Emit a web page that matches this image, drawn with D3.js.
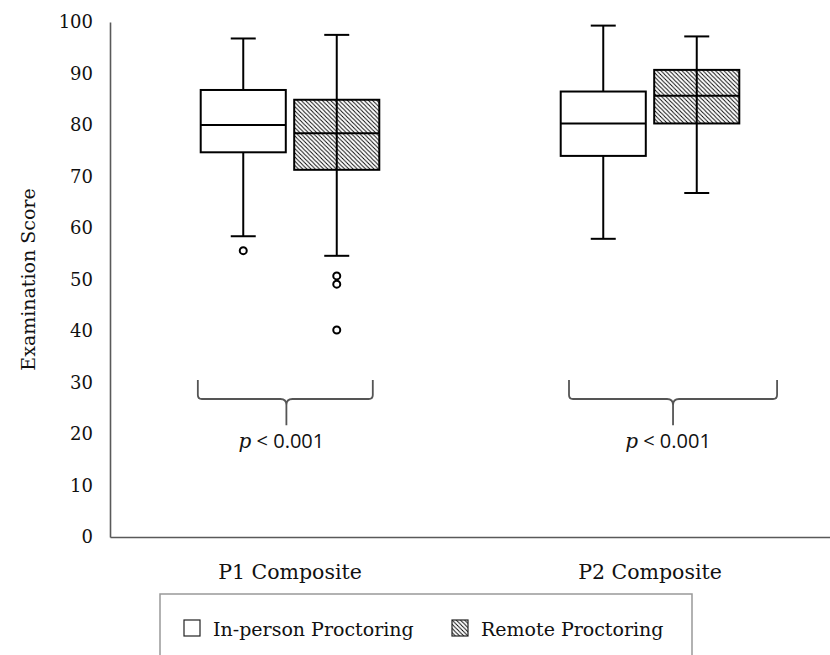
<!DOCTYPE html>
<html>
<head>
<meta charset="utf-8">
<script src="https://cdn.jsdelivr.net/npm/d3@7"></script>
<style>
  body { margin: 0; background: #fff; }
  svg { display: block; }
</style>
</head>
<body>
<svg id="vis" width="830" height="655"></svg>
<script>
// composites on the x axis, proctoring type as the two boxes
const categories = ['P1 Composite', 'P2 Composite'];
const series = ['In-person Proctoring', 'Remote Proctoring'];

// [min whisker, q1, median, q3, max whisker]
const inPersonStats = [[58.4, 74.7, 80.0, 86.8, 96.8], [57.9, 74.0, 80.3, 86.5, 99.3]];
const remoteStats = [[54.6, 71.3, 78.4, 84.9, 97.5], [66.8, 80.3, 85.7, 90.7, 97.2]];

const inPersonOutliers = [[55.6], []];
const remoteOutliers = [[50.7, 49.1, 40.2], []];

const yTicks = [0, 10, 20, 30, 40, 50, 60, 70, 80, 90, 100];

// significance braces: [left, tip, right] as fraction of the category band, then value levels
const braceSpan = [[0.244, 0.49, 0.73], [0.275, 0.564, 0.853]];
const braceLevels = [30.5, 26.8, 21.7];
const pLabels = ['0.001', '0.001'];
const pLabelLevel = 17.3;

const vis = d3.select('#vis');
const margin = {top: 22, right: 0, bottom: 118, left: 110};
const width = 830 - margin.left - margin.right;
const height = 655 - margin.top - margin.bottom;

const g = vis.append('g').attr('transform', `translate(${margin.left},${margin.top})`);

const x = d3.scaleBand().domain(categories).range([0, width]);
const bw = x.bandwidth();
const x1 = d3.scaleBand().domain(series)
  .range([bw / 2 - 93.5, bw / 2 + 93.5])
  .paddingInner(0.09).paddingOuter(0.045);
const y = d3.scaleLinear().domain([0, 100]).range([height, 0]);

// hatch for the remote boxes
const defs = vis.append('defs');
defs.append('pattern')
  .attr('id', 'hatch')
  .attr('patternUnits', 'userSpaceOnUse')
  .attr('width', 4.2).attr('height', 4.2)
  .append('path')
    .attr('d', 'M-1,-1 L5.2,5.2 M-1,3.2 L1,5.2 M3.2,-1 L5.2,1')
    .attr('stroke', '#000').attr('stroke-width', 0.9);

// axes
const yAxis = g.append('g').call(d3.axisLeft(y).tickValues(yTicks).tickSize(0).tickPadding(17));
yAxis.select('.domain').attr('stroke', '#595959').attr('stroke-width', 1.6);
yAxis.selectAll('text')
  .attr('font-family', 'DejaVu Serif').attr('font-size', 18).attr('fill', '#111');

const xAxis = g.append('g').attr('transform', `translate(0,${height})`)
  .call(d3.axisBottom(x).tickSize(0).tickSizeOuter(0).tickPadding(27));
xAxis.select('.domain').attr('stroke', '#595959').attr('stroke-width', 1.6);
xAxis.selectAll('text')
  .attr('font-family', 'DejaVu Serif').attr('font-size', 20.5).attr('fill', '#111');

vis.append('text')
  .attr('transform', `translate(28,${margin.top + height / 2}) rotate(-90)`)
  .attr('text-anchor', 'middle')
  .attr('dy', '0.35em')
  .attr('font-family', 'DejaVu Serif').attr('font-size', 19).attr('fill', '#111')
  .text('Examination Score');

// boxes
const boxes = [];
categories.forEach((c, i) => {
  boxes.push({cat: c, s: series[0], stats: inPersonStats[i], outliers: inPersonOutliers[i]});
  boxes.push({cat: c, s: series[1], stats: remoteStats[i], outliers: remoteOutliers[i]});
});

const box = g.selectAll('g.box').data(boxes)
  .enter()
  .append('g')
    .classed('box', true)
    .attr('transform', d => `translate(${x(d.cat) + x1(d.s)},0)`);

const bxw = x1.bandwidth();
const capW = 25;

box.append('line')
  .attr('x1', bxw / 2).attr('x2', bxw / 2)
  .attr('y1', d => y(d.stats[0])).attr('y2', d => y(d.stats[4]))
  .attr('stroke', '#000').attr('stroke-width', 2);

box.selectAll('line.cap').data(d => [d.stats[0], d.stats[4]])
  .enter()
  .append('line')
    .classed('cap', true)
    .attr('x1', bxw / 2 - capW / 2).attr('x2', bxw / 2 + capW / 2)
    .attr('y1', d => y(d)).attr('y2', d => y(d))
    .attr('stroke', '#000').attr('stroke-width', 2);

box.append('rect')
  .attr('x', 0).attr('width', bxw)
  .attr('y', d => y(d.stats[3]))
  .attr('height', d => y(d.stats[1]) - y(d.stats[3]))
  .attr('fill', d => d.s === series[1] ? 'url(#hatch)' : '#fff')
  .attr('stroke', '#000').attr('stroke-width', 2);

box.append('line')
  .attr('x1', 0).attr('x2', bxw)
  .attr('y1', d => y(d.stats[2])).attr('y2', d => y(d.stats[2]))
  .attr('stroke', '#000').attr('stroke-width', 2);

box.selectAll('circle').data(d => d.outliers)
  .enter()
  .append('circle')
    .attr('cx', bxw / 2).attr('cy', d => y(d)).attr('r', 3.5)
    .attr('fill', '#fff').attr('stroke', '#000').attr('stroke-width', 2);

// braces and p values
const brace = g.selectAll('g.brace').data(categories)
  .enter()
  .append('g')
    .classed('brace', true)
    .attr('transform', d => `translate(${x(d)},0)`);

brace.append('path')
  .attr('d', (d, i) => {
    const [a, m, b] = braceSpan[i].map(f => f * bw);
    const [t, h, p] = braceLevels.map(v => y(v));
    return `M${a},${t} V${h - 4} Q${a},${h} ${a + 4},${h} H${m - 6} Q${m},${h} ${m},${h + 6} V${p}` +
           ` M${b},${t} V${h - 4} Q${b},${h} ${b - 4},${h} H${m + 6} Q${m},${h} ${m},${h + 6}`;
  })
  .attr('fill', 'none').attr('stroke', '#555').attr('stroke-width', 1.8);

const pText = brace.append('text')
  .attr('x', (d, i) => braceSpan[i][1] * bw - 5)
  .attr('y', y(pLabelLevel))
  .attr('text-anchor', 'middle')
  .attr('font-family', 'Open Sans').attr('font-size', 20).attr('fill', '#111');
pText.append('tspan').attr('font-family', 'DejaVu Serif').attr('font-style', 'italic').text('p');
pText.append('tspan').text((d, i) => ' < ' + pLabels[i]);

// legend
const legend = vis.append('g');
legend.append('rect')
  .attr('x', 160).attr('y', 594).attr('width', 532).attr('height', 80)
  .attr('fill', 'none').attr('stroke', '#999').attr('stroke-width', 1.5);

const legendX = d3.scaleOrdinal().domain(series).range([184, 452]);
const item = legend.selectAll('g.item').data(series)
  .enter()
  .append('g')
    .classed('item', true)
    .attr('transform', d => `translate(${legendX(d)},620)`);

item.append('rect')
  .attr('width', 16).attr('height', 16)
  .attr('fill', (d, i) => i ? 'url(#hatch)' : '#fff')
  .attr('stroke', '#222').attr('stroke-width', 1.2);

item.append('text')
  .attr('x', 29).attr('y', 16)
  .attr('font-family', 'DejaVu Serif').attr('font-size', 19).attr('fill', '#111')
  .text(d => d);
</script>
</body>
</html>
